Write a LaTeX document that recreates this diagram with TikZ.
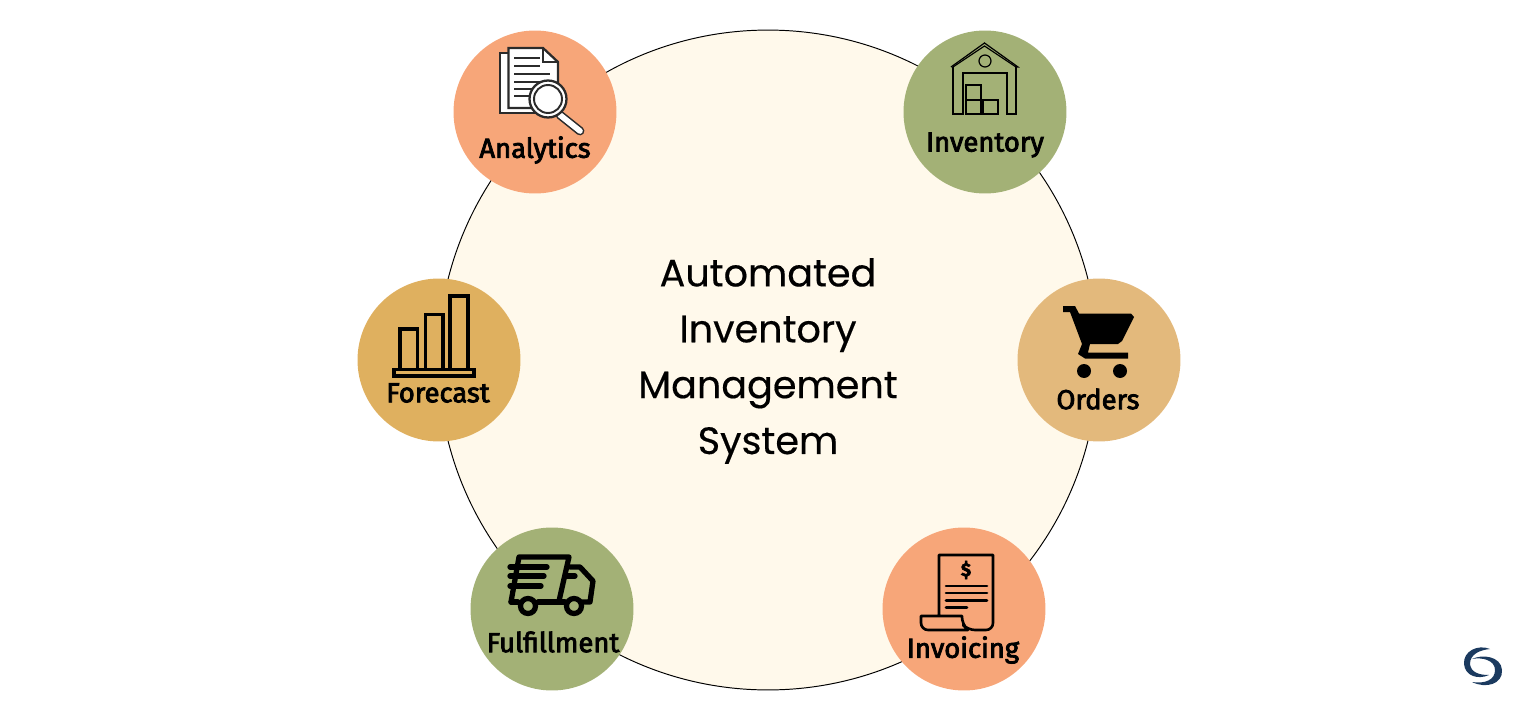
\documentclass[tikz,border=0pt]{standalone}
\usepackage{fontspec}
\usepackage{xcolor}
\setmainfont[FakeBold=0.4]{Poppins}
\newfontfamily\labelfont[FakeBold=3]{Fira Sans}
\definecolor{discfill}{HTML}{FFF9EB}
\definecolor{peach}{HTML}{F7A679}
\definecolor{sage}{HTML}{A3B176}
\definecolor{sand}{HTML}{E3B97C}
\definecolor{ochre}{HTML}{DFB05F}
\definecolor{logoblue}{HTML}{1B3A5F}
\definecolor{inkdark}{HTML}{2B2B2B}

\begin{document}
\begin{tikzpicture}[
    x=0.02cm, y=-0.02cm,
    disc/.style={circle, draw=black, line width=0.55pt, fill=discfill, minimum size=13.2cm, inner sep=0pt},
    hub/.style={circle, minimum size=3.26cm, inner sep=0pt},
    title/.style={align=center, inner sep=0pt, font=\fontsize{21.7}{31.8}\selectfont},
    hublabel/.style={inner sep=0pt, font=\labelfont\fontsize{15.6}{18}\selectfont},
    thinline/.style={draw=black, line width=0.7pt},
    midline/.style={draw=black, line width=1.5pt, line cap=round, line join=round},
    thickline/.style={draw=black, line width=3pt, line cap=round, line join=round},
    docline/.style={draw=inkdark, line width=1.3pt}
]
    \useasboundingbox (0,0) rectangle (1536,720);
    \node[disc] (system) at (768,360) {};
    \node[title] (caption) at (768,361) {Automated\\Inventory\\Management\\System};

    \node[hub, fill=peach] (analytics) at (535,112) {};
    \node[hub, fill=sage] (inventory) at (985,112) {};
    \node[hub, fill=sand] (orders) at (1099,360) {};
    \node[hub, fill=peach] (invoicing) at (964,609) {};
    \node[hub, fill=sage] (fulfillment) at (552,609) {};
    \node[hub, fill=ochre] (forecast) at (439,360) {};

    % analytics icon
    \draw[docline, fill=white] (500,53) rectangle (540,113);
    \draw[docline, fill=white] (508.5,48) -- (543,48) -- (558,62) -- (558,108) -- (508.5,108) -- cycle;
    \draw[docline] (543,48) -- (543,62) -- (558,62);
    \foreach \ypos/\xend in {58/540, 66/540, 74/550, 82/540, 89/535, 96/535}
        \draw[docline] (514,\ypos) -- (\xend,\ypos);
    \draw[draw=inkdark, line width=5pt, line cap=round] (560,115) -- (580,131);
    \draw[draw=white, line width=3.2pt, line cap=round] (560,115) -- (580,131);
    \node[circle, draw=inkdark, line width=1.3pt, fill=white, minimum size=0.74cm, inner sep=0pt] (lensrim) at (548,99) {};
    \node[circle, draw=inkdark, line width=1.1pt, fill=white, minimum size=0.56cm, inner sep=0pt] (lens) at (548,99) {};

    % inventory icon
    \draw[thinline, line join=miter] (951,67) -- (984.5,43) -- (1018,67) -- (1016,67);
    \draw[thinline] (953,67) -- (984.5,46) -- (1016,67);
    \draw[thinline] (953,67) -- (953,114) -- (963,114) -- (963,73) -- (1007,73) -- (1007,114) -- (1016,114) -- (1016,67);
    \node[circle, thinline, minimum size=0.24cm, inner sep=0pt] (vent) at (985,61) {};
    \draw[thinline] (966,85) rectangle (981,114);
    \draw[thinline] (966,100) -- (981,100);
    \draw[thinline] (983,100) rectangle (998,114);

    % orders icon
    \fill[black] (1063,306) -- (1075,306) -- (1079,313.5) -- (1131,313.5) -- (1134,317) -- (1122,341) -- (1118,344)
        -- (1090,344) -- (1088,352.5) -- (1128,352.5) -- (1128,358.5) -- (1085,358.5) -- (1078,354) -- (1082,344)
        -- (1070,312) -- (1063,312) -- cycle;
    \node[circle, fill=black, minimum size=0.28cm, inner sep=0pt] (wheelL) at (1084,371) {};
    \node[circle, fill=black, minimum size=0.28cm, inner sep=0pt] (wheelR) at (1120,371) {};

    % invoicing icon
    \draw[midline] (939,616) -- (939,555) -- (993,555) [rounded corners=4pt] -- (993,630) -- (968,630) -- (962,624) [sharp corners] -- (962,616) -- (921,616) [rounded corners=4pt] -- (921,630) -- (968,630);
    \foreach \ypos/\xend in {586/987, 593/987, 600.5/987, 607.5/967}
        \draw[midline] (946,\ypos) -- (\xend,\ypos);
    \node[inner sep=0pt, font=\labelfont\bfseries\fontsize{10.5}{10.5}\selectfont] (dollar) at (966,570) {\$};

    % fulfillment icon
    \draw[thickline] (511,602) -- (519,557) -- (569,557) -- (559,601);
    \draw[thickline] (510,567) -- (547,567);
    \draw[thickline] (510,576) -- (544,576);
    \draw[thickline] (510,586) -- (541,586);
    \draw[thickline] (570,567) -- (580,567) -- (593,581) -- (590,602) -- (582,602);
    \draw[thickline] (566,576) -- (575,576);
    \draw[thickline] (511,602) -- (518,602);
    \draw[thickline] (538,602) -- (565,602);
    \node[circle, thickline, fill=sage, minimum size=0.3cm, inner sep=0pt] (truckL) at (528,606) {};
    \node[circle, thickline, fill=sage, minimum size=0.3cm, inner sep=0pt] (truckR) at (574,606) {};

    % forecast icon
    \draw[draw=black, line width=2pt] (400,370) -- (400,329) -- (417.5,329) -- (417.5,370);
    \draw[draw=black, line width=2pt] (425.5,370) -- (425.5,314.5) -- (443,314.5) -- (443,370);
    \draw[draw=black, line width=2pt] (450,370) -- (450,296) -- (468,296) -- (468,370);
    \draw[draw=black, line width=2pt] (394,369.5) rectangle (474,376);

    \node[hublabel] (analyticslabel) at (535,150) {Analytics};
    \node[hublabel] (inventorylabel) at (985,145) {Inventory};
    \node[hublabel] (orderslabel) at (1098,399) {Orders};
    \node[hublabel] (invoicinglabel) at (963,650) {Invoicing};
    \node[hublabel] (fulfillmentlabel) at (553,642) {Fulfillment};
    \node[hublabel] (forecastlabel) at (438,393) {Forecast};

    % logo
    \fill[logoblue] (1490,649) .. controls (1478,644) and (1463,651) .. (1464,664) .. controls (1465,676) and (1478,680) .. (1489,675)
        .. controls (1478,675) and (1471,672) .. (1470,664) .. controls (1470,654) and (1480,650) .. (1490,649) -- cycle;
    \fill[logoblue] (1472,659) .. controls (1482,654) and (1501,656) .. (1502,670) .. controls (1503,684) and (1486,689) .. (1472,682)
        .. controls (1485,684) and (1495,680) .. (1495,670) .. controls (1495,660) and (1482,657) .. (1472,659) -- cycle;
\end{tikzpicture}
\end{document}
